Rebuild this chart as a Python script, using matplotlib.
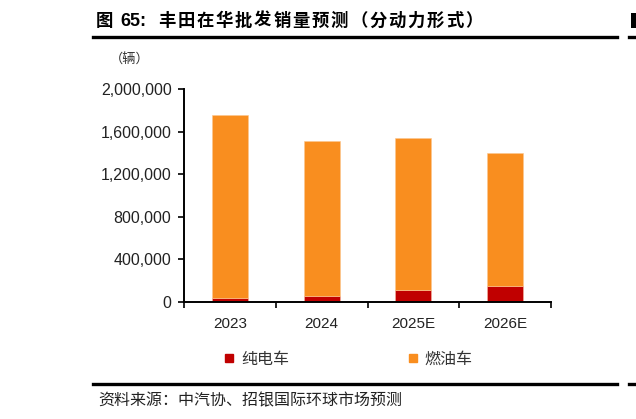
import numpy as np
import matplotlib
matplotlib.use("Agg")
import matplotlib.pyplot as plt
from matplotlib.lines import Line2D
from matplotlib.patches import Rectangle
from matplotlib.ticker import FuncFormatter, FixedLocator

# data (vehicles)
years = ["2023", "2024", "2025E", "2026E"]
bev = [34000, 57000, 113000, 150000]
ice = [1718000, 1458000, 1430000, 1249000]
series_names = ["纯电车", "燃油车"]
y_ticks = [0, 400000, 800000, 1200000, 1600000, 2000000]

RED = "#C00000"
ORANGE = "#F98E1F"
CJK = ["Noto Sans CJK SC", "DejaVu Sans"]
LATIN_CJK = ["Liberation Sans", "Noto Sans CJK SC"]

plt.rcParams["font.family"] = LATIN_CJK

W, H = 636, 419
fig = plt.figure(figsize=(W / 100, H / 100), dpi=100)
ax = fig.add_axes([184 / W, 1 - 302 / H, (551 - 184) / W, (302 - 89) / H])

x = np.arange(len(years))
ax.bar(x, bev, width=0.39, color=RED, edgecolor="#f3b8a0", linewidth=0.4, label=series_names[0])
ax.bar(x, ice, width=0.39, bottom=bev, color=ORANGE, edgecolor="#fcc690",
       linewidth=0.4, label=series_names[1])

ax.set_xlim(-0.5, len(years) - 0.5)
ax.set_ylim(0, 2000000)

# axes look
for s in ["top", "right"]:
    ax.spines[s].set_visible(False)
for s in ["left", "bottom"]:
    ax.spines[s].set_linewidth(1.4)
    ax.spines[s].set_color("black")

ax.set_yticks(y_ticks)
ax.yaxis.set_major_formatter(FuncFormatter(lambda v, p: f"{v:,.0f}"))
ax.tick_params(axis="y", direction="out", length=4.5, width=1.2, pad=4.5,
               labelsize=11.5, colors="black")
for lab in ax.get_yticklabels():
    lab.set_color("#222222")

ax.set_xticks(x)
ax.set_xticklabels(years, color="#222222")
ax.xaxis.set_minor_locator(FixedLocator(np.arange(len(years) + 1) - 0.5))
ax.tick_params(axis="x", which="major", length=0, pad=11, labelsize=11)
ax.tick_params(axis="x", which="minor", direction="out", length=4, width=1.2)

# unit label
fig.text(110 / W, 1 - 60 / H, "（辆）", fontsize=9.5, family=CJK, color="#333333",
         ha="left", va="center")

# legend
handles = [Line2D([], [], marker="s", linestyle="none", markersize=6,
                  markerfacecolor=c, markeredgecolor=c) for c in (RED, ORANGE)]
fig.legend(handles, series_names, loc="center", bbox_to_anchor=(348 / W, 1 - 359 / H),
           ncol=2, frameon=False, handlelength=0.7, handletextpad=0.4,
           columnspacing=7.4, prop={"family": CJK, "size": 11.5}, labelcolor="#333333")

# title: the reference sets the characters loosely, so place them one by one
ty = 1 - 21 / H
fig.text(96 / W, ty, "图", fontsize=12.5, fontweight="bold", family=CJK, ha="left", va="center")
fig.text(120 / W, ty, "65:", fontsize=13, fontweight="bold", family="Liberation Sans",
         ha="left", va="center")
title_chars = "丰田在华批发销量预测（分动力形式）"
for i, ch in enumerate(title_chars):
    fig.text((158 + i * 19.2) / W, ty, ch, fontsize=12.5, fontweight="bold", family=CJK,
             ha="left", va="center")

fig.add_artist(Line2D([93 / W, 617 / W], [1 - 37.5 / H] * 2, color="black", lw=2.4))
fig.add_artist(Line2D([93 / W, 617 / W], [1 - 384 / H] * 2, color="black", lw=2.4))
fig.text(98 / W, 1 - 401 / H, "资料来源：中汽协、招银国际环球市场预测", fontsize=11.5,
         family=CJK, ha="left", va="center", color="#222222")

# edge of the neighbouring chart
fig.add_artist(Line2D([629 / W, 1.0], [1 - 37.5 / H] * 2, color="black", lw=2.4))
fig.add_artist(Line2D([629 / W, 1.0], [1 - 384 / H] * 2, color="black", lw=2.4))
fig.add_artist(Rectangle((631 / W, 1 - 28 / H), 5 / W, 15 / H, transform=fig.transFigure,
                         facecolor="black", edgecolor="none"))

fig.savefig("out.png", dpi=100)
